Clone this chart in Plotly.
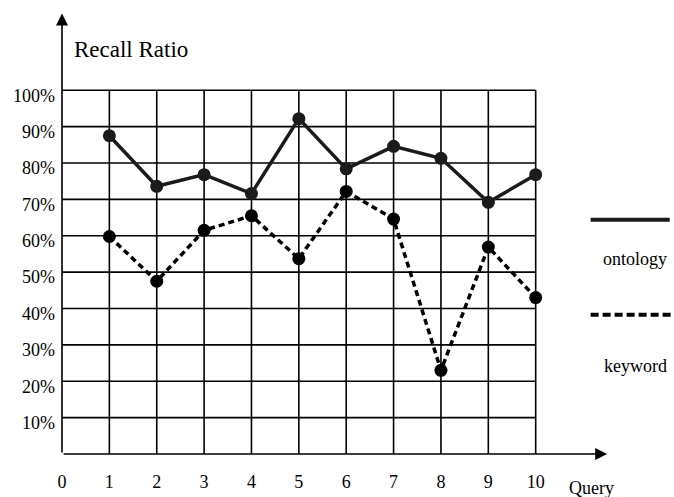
import plotly.graph_objects as go

# ---- data ----
queries = [1, 2, 3, 4, 5, 6, 7, 8, 9, 10]
ontology = [87.5, 73.6, 76.8, 71.6, 92.2, 78.4, 84.6, 81.3, 69.2, 76.8]
keyword = [59.8, 47.5, 61.5, 65.5, 53.7, 72.2, 64.6, 23.0, 56.9, 43.0]

x_ticks = [0, 1, 2, 3, 4, 5, 6, 7, 8, 9, 10]
x_tick_labels = ["0", "1", "2", "3", "4", "5", "6", "7", "8", "9", "10"]
y_ticks = [10, 20, 30, 40, 50, 60, 70, 80, 90, 100]
y_tick_labels = ["10%", "20%", "30%", "40%", "50%", "60%", "70%", "80%", "90%", "100%"]

series_names = ["ontology", "keyword"]
y_title = "Recall Ratio"
x_title = "Query"

FONT = "Liberation Serif, Times New Roman, serif"
INK = "#1b1b1b"

fig = go.Figure()

fig.add_trace(go.Scatter(
    x=queries, y=ontology, mode="lines+markers", name=series_names[0],
    line=dict(color=INK, width=3.5),
    marker=dict(color=INK, size=13), cliponaxis=False, showlegend=False,
))
fig.add_trace(go.Scatter(
    x=queries, y=keyword, mode="lines+markers", name=series_names[1],
    line=dict(color="#000000", width=3.5, dash="6px,4px"),
    marker=dict(color="#000000", size=13), cliponaxis=False, showlegend=False,
))

x_max = max(x_ticks)
y_max = max(y_ticks)
shapes = []
# grid (only inside the 0..10 x 0..100 box)
for xv in x_ticks[1:]:
    shapes.append(dict(type="line", xref="x", yref="y", x0=xv, x1=xv, y0=0, y1=y_max,
                       line=dict(color="#000", width=1.6), layer="below"))
for yv in y_ticks:
    shapes.append(dict(type="line", xref="x", yref="y", x0=0, x1=x_max, y0=yv, y1=yv,
                       line=dict(color="#000", width=1.6), layer="below"))
# legend swatches
shapes.append(dict(type="line", xref="x", yref="y", x0=11.16, x1=12.83, y0=64.4, y1=64.4,
                   line=dict(color=INK, width=4, dash="solid")))
shapes.append(dict(type="line", xref="x", yref="y", x0=11.16, x1=12.92, y0=38.3, y1=38.3,
                   line=dict(color="#000", width=4, dash="8px,4px")))

annotations = [
    # axes with arrowheads
    dict(x=0, y=121.1, ax=0, ay=0, xref="x", yref="y", axref="x", ayref="y",
         text="", showarrow=True, arrowhead=2, arrowsize=1.5, arrowwidth=1.6, arrowcolor="#000"),
    dict(x=11.51, y=0, ax=0, ay=0, xref="x", yref="y", axref="x", ayref="y",
         text="", showarrow=True, arrowhead=2, arrowsize=1.5, arrowwidth=1.6, arrowcolor="#000"),
    dict(x=0.22, y=111.1, xref="x", yref="y", text=y_title, showarrow=False,
         xanchor="left", yanchor="middle", font=dict(family=FONT, size=23, color="#000")),
    dict(x=10.66, y=0, yshift=-34, xref="x", yref="y", text=x_title, showarrow=False,
         xanchor="left", yanchor="middle", font=dict(family=FONT, size=18, color="#000")),
    dict(x=11.38, y=53.6, xref="x", yref="y", text=series_names[0], showarrow=False,
         xanchor="left", yanchor="middle", font=dict(family=FONT, size=18, color="#000")),
    dict(x=11.40, y=24.1, xref="x", yref="y", text=series_names[1], showarrow=False,
         xanchor="left", yanchor="middle", font=dict(family=FONT, size=18, color="#000")),
]

fig.update_layout(
    width=674, height=497,
    margin=dict(l=62, r=0, t=11, b=43),
    paper_bgcolor="white", plot_bgcolor="white",
    font=dict(family=FONT, size=18, color="#000"),
    shapes=shapes, annotations=annotations,
    showlegend=False,
)
fig.update_xaxes(range=[0, 12.92], showgrid=False, zeroline=False, showline=False,
                 tickvals=x_ticks, ticktext=x_tick_labels, ticks="",
                 ticklabelstandoff=15, tickfont=dict(family=FONT, size=18, color="#000"))
fig.update_yaxes(range=[0, 121.8], showgrid=False, zeroline=False, showline=False,
                 tickvals=y_ticks, ticktext=y_tick_labels, ticks="",
                 ticklabelstandoff=6, ticklabelshift=5,
                 tickfont=dict(family=FONT, size=18, color="#000"))

fig.write_html("out.html", config={"displayModeBar": False},
               post_script="document.body.style.margin='0';document.body.style.padding='0';")
